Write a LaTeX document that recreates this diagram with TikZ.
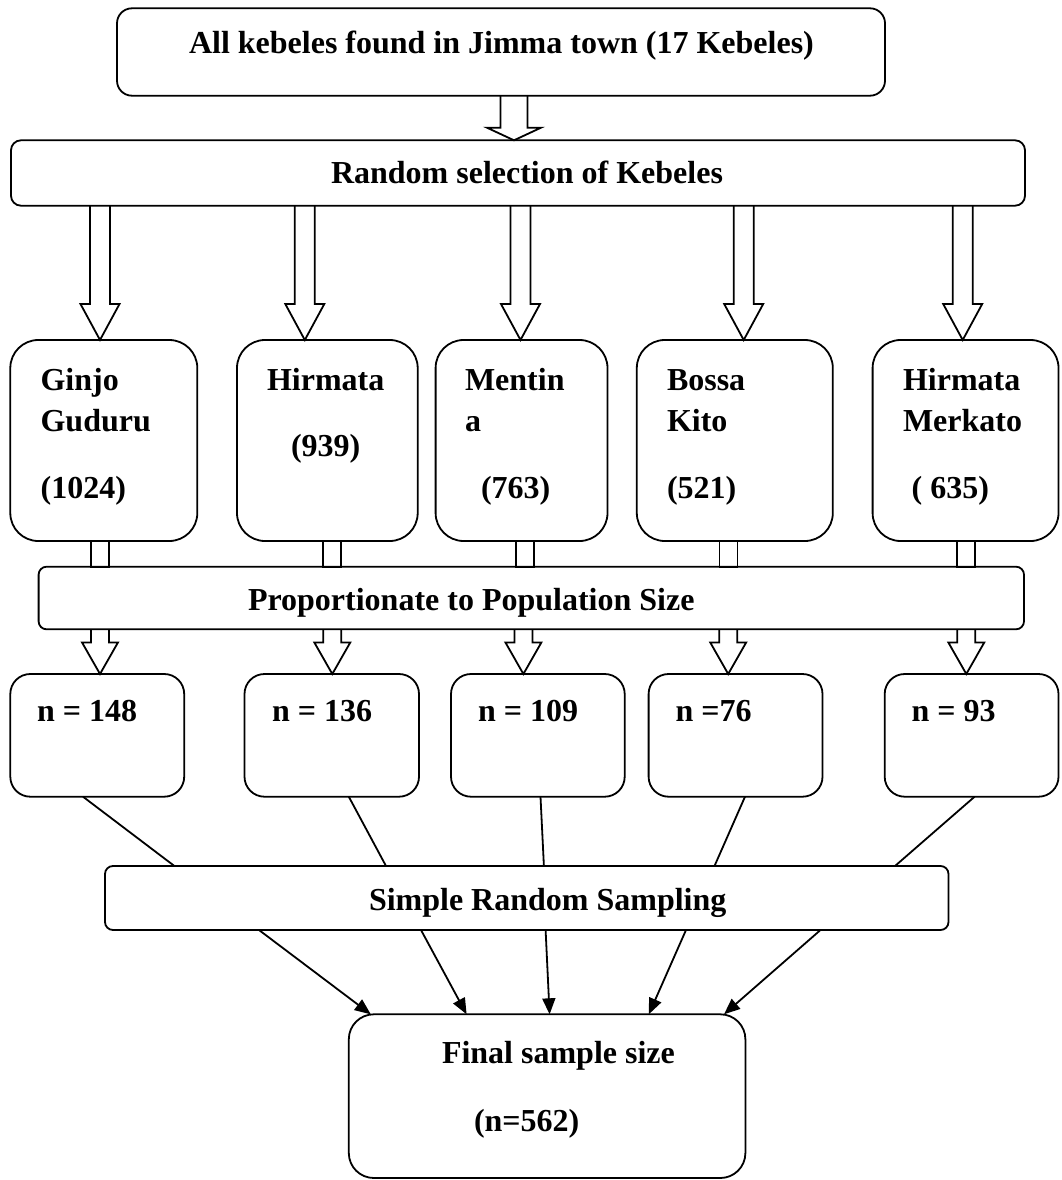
\documentclass[tikz,border=0pt]{standalone}
\usepackage{fontspec}
\setmainfont{Liberation Serif}
\usetikzlibrary{arrows.meta,calc}
\tikzset{
  box/.style={draw, line width=1.8pt, rectangle, inner sep=0pt, outer sep=0pt},
  txt/.style={anchor=base west, inner sep=0pt, outer sep=0pt, font=\fontsize{32}{38}\selectfont\bfseries},
  hollow/.style={draw, line width=1.8pt, line join=miter},
  conn/.style={line width=1.8pt},
  arr/.style={line width=1.8pt, -{Triangle[length=16pt,width=13pt]}},
}
% hollow block arrow: #1 x, #2 from node, #3 to node, #4 shaft half width, #5 head half width, #6 head length
\newcommand\hollowarrow[6]{%
  \draw[hollow] let \p1=(#2.south), \p2=(#3.north) in
    (#1pt-#4pt,\y1) -- (#1pt-#4pt,\y2+#6pt) -- (#1pt-#5pt,\y2+#6pt) -- (#1pt,\y2)
    -- (#1pt+#5pt,\y2+#6pt) -- (#1pt+#4pt,\y2+#6pt) -- (#1pt+#4pt,\y1);
}
% stub connector: #1 x, #2 from node, #3 to node, #4 half width
\newcommand\stubconn[4]{%
  \draw[hollow] let \p1=(#2.south), \p2=(#3.north) in
    (#1pt-#4pt,\y1) rectangle (#1pt+#4pt,\y2);
}
\begin{document}
\begin{tikzpicture}[x=1pt,y=-1pt]
\useasboundingbox (0,0) rectangle (1062,1180);

% boxes
\node[box, rounded corners=15pt, minimum width=768pt, minimum height=87.4pt] (top) at (501,52) {};
\node[box, rounded corners=10pt, minimum width=1014pt, minimum height=65.4pt] (rand) at (518,173) {};

\node[box, rounded corners=28pt, minimum width=187pt, minimum height=201pt] (k1) at (103.8,440.5) {};
\node[box, rounded corners=28pt, minimum width=180.7pt, minimum height=201pt] (k2) at (327.35,440.5) {};
\node[box, rounded corners=28pt, minimum width=171.9pt, minimum height=201pt] (k3) at (521.55,440.5) {};
\node[box, rounded corners=28pt, minimum width=196pt, minimum height=201pt] (k4) at (734.8,440.5) {};
\node[box, rounded corners=28pt, minimum width=185.9pt, minimum height=201pt] (k5) at (965.55,440.5) {};

\node[box, rounded corners=8pt, minimum width=985.4pt, minimum height=62.6pt] (prop) at (531.3,598) {};

\node[box, rounded corners=20pt, minimum width=173.9pt, minimum height=122.7pt] (n1) at (97.25,735.35) {};
\node[box, rounded corners=20pt, minimum width=174.5pt, minimum height=122.7pt] (n2) at (331.75,735.35) {};
\node[box, rounded corners=20pt, minimum width=173.7pt, minimum height=122.7pt] (n3) at (537.85,735.35) {};
\node[box, rounded corners=20pt, minimum width=173.9pt, minimum height=122.7pt] (n4) at (735.55,735.35) {};
\node[box, rounded corners=20pt, minimum width=173.8pt, minimum height=122.7pt] (n5) at (971.6,735.35) {};

\node[box, rounded corners=8pt, minimum width=843.5pt, minimum height=64pt] (srs) at (526.75,898) {};
\node[box, rounded corners=25pt, minimum width=396.6pt, minimum height=163.7pt] (final) at (547.1,1096.15) {};

% texts
\node[txt] (ttop) at (189,53.3) {All kebeles found in Jimma town (17 Kebeles)};
\node[txt] (trand) at (331,183) {Random selection of Kebeles};

\node[txt] (k1a) at (40.6,390) {Ginjo};
\node[txt] (k1b) at (40.6,431.7) {Guduru};
\node[txt] (k1c) at (40.6,498) {(1024)};

\node[txt] (k2a) at (267,390) {Hirmata};
\node[txt] (k2b) at (291,456.7) {(939)};

\node[txt] (k3a) at (465,390) {Mentin};
\node[txt] (k3b) at (465,431.7) {a};
\node[txt] (k3c) at (481,498) {(763)};

\node[txt] (k4a) at (667,390) {Bossa};
\node[txt] (k4b) at (667,431.7) {Kito};
\node[txt] (k4c) at (667,498) {(521)};

\node[txt] (k5a) at (903,390) {Hirmata};
\node[txt] (k5b) at (903,431.7) {Merkato};
\node[txt] (k5c) at (911.6,498) {( 635)};

\node[txt] (tprop) at (248,610) {Proportionate to Population Size};

\node[txt] (tn1) at (37.2,721.7) {n = 148};
\node[txt] (tn2) at (272,721.7) {n = 136};
\node[txt] (tn3) at (478,721.7) {n = 109};
\node[txt] (tn4) at (675.5,721.7) {n =76};
\node[txt] (tn5) at (911.6,721.7) {n = 93};

\node[txt] (tsrs) at (369,910) {Simple Random Sampling};
\node[txt] (tfa) at (442,1063) {Final sample size};
\node[txt] (tfb) at (474,1131.7) {(n=562)};

% hollow block arrows
\hollowarrow{514}{top}{rand}{13.5}{27}{12.6}
\hollowarrow{100}{rand}{k1}{10}{19.5}{36}
\hollowarrow{304.8}{rand}{k2}{10}{19.5}{36}
\hollowarrow{520.5}{rand}{k3}{10}{19.5}{36}
\hollowarrow{743.7}{rand}{k4}{10}{19.5}{36}
\hollowarrow{962.7}{rand}{k5}{10}{19.5}{36}

\stubconn{100.2}{k1}{prop}{9}
\stubconn{332.3}{k2}{prop}{9}
\stubconn{524.6}{k3}{prop}{9}
\stubconn{728.4}{k4}{prop}{9}
\stubconn{965.7}{k5}{prop}{9}

\hollowarrow{100}{prop}{n1}{9}{18}{31.6}
\hollowarrow{332.3}{prop}{n2}{9}{18}{31.6}
\hollowarrow{523.4}{prop}{n3}{9}{18}{31.6}
\hollowarrow{728.2}{prop}{n4}{9}{18}{31.6}
\hollowarrow{966.3}{prop}{n5}{9}{18}{31.6}

% thin connectors
\draw[conn] ($(n1.south west)+(72.7,0)$) -- ($(srs.north west)+(69.4,0)$);
\draw[conn] ($(n2.south west)+(104.3,0)$) -- ($(srs.north west)+(281,0)$);
\draw[conn] ($(n3.south west)+(89.5,0)$) -- ($(srs.north west)+(438.9,0)$);
\draw[conn] ($(n4.south west)+(96.4,0)$) -- ($(srs.north west)+(609.5,0)$);
\draw[conn] ($(n5.south west)+(89.9,0)$) -- ($(srs.north west)+(790,0)$);

\draw[arr] ($(srs.south west)+(154,0)$) -- ($(final.north west)+(22,0)$);
\draw[arr] ($(srs.south west)+(316,0)$) -- ($(final.north west)+(117.8,0)$);
\draw[arr] ($(srs.south west)+(440.6,0)$) -- ($(final.north west)+(200.8,0)$);
\draw[arr] ($(srs.south west)+(581,0)$) -- ($(final.north west)+(300,0)$);
\draw[arr] ($(srs.south west)+(715.5,0)$) -- ($(final.north west)+(375.2,0)$);
\end{tikzpicture}
\end{document}
